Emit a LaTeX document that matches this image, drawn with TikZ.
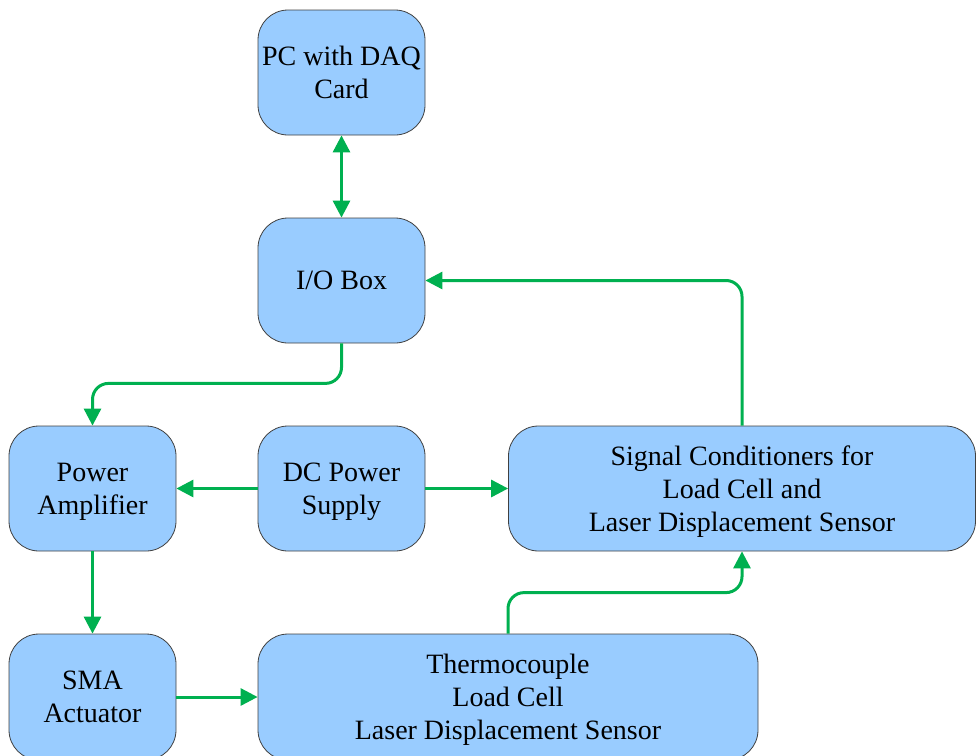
\documentclass[tikz,border=0pt]{standalone}
\usepackage{fontspec}
\setmainfont{Liberation Serif}
\usetikzlibrary{arrows.meta}
\definecolor{boxfill}{HTML}{99CCFF}
\definecolor{boxline}{HTML}{404040}
\definecolor{arrgreen}{HTML}{00B050}
\begin{document}
\begin{tikzpicture}[x=1pt,y=-1pt,
  blk/.style={draw=boxline, line width=0.8pt, fill=boxfill, rounded corners=30pt,
    align=center, inner sep=0pt, text depth=0pt, font=\fontsize{28}{33}\selectfont},
  arr/.style={draw=arrgreen, line width=3pt, -{Triangle[length=17pt,width=17pt]}},
  darr/.style={draw=arrgreen, line width=3pt, {Triangle[length=17pt,width=17pt]}-{Triangle[length=17pt,width=17pt]}}]
\useasboundingbox (0,0) rectangle (976,755);
\node[blk, minimum width=167pt, minimum height=125pt] (pc) at (341.5,72.5) {PC with DAQ\\Card};
\node[blk, minimum width=167pt, minimum height=125pt] (io) at (341.5,280.5) {I/O Box};
\node[blk, minimum width=167pt, minimum height=125pt] (pa) at (92.5,488.5) {Power\\Amplifier};
\node[blk, minimum width=167pt, minimum height=125pt] (dc) at (341.5,488.5) {DC Power\\Supply};
\node[blk, minimum width=467pt, minimum height=125pt] (sig) at (742,488.5) {Signal Conditioners for\\Load Cell and\\Laser Displacement Sensor};
\node[blk, minimum width=167pt, minimum height=126pt] (sma) at (92.5,697) {SMA\\Actuator};
\node[blk, minimum width=500pt, minimum height=126pt] (th) at (508,697) {Thermocouple\\Load Cell\\Laser Displacement Sensor};
\draw[darr] (pc.south) -- (io.north);
\draw[arr, rounded corners=16pt] (io.south) -- ++(0,40) -| (pa.north);
\draw[arr] (dc.west) -- (pa.east);
\draw[arr] (dc.east) -- (sig.west);
\draw[arr, rounded corners=16pt] (sig.north) |- (io.east);
\draw[arr] (pa.south) -- (sma.north);
\draw[arr] (sma.east) -- (th.west);
\draw[arr, rounded corners=16pt] (th.north) -- ++(0,-41) -| (sig.south);
\end{tikzpicture}
\end{document}
